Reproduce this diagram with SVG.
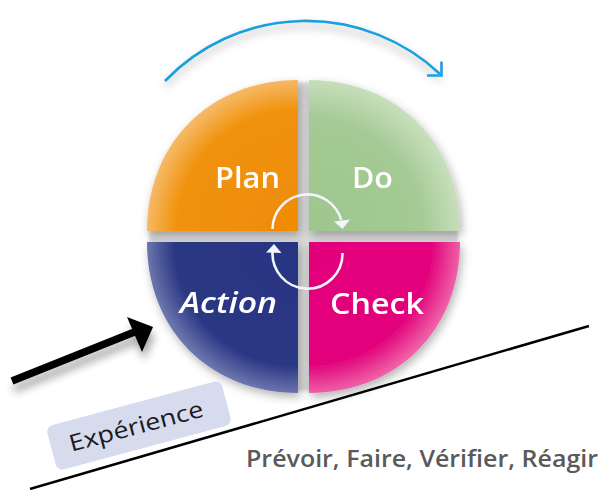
<svg xmlns="http://www.w3.org/2000/svg" width="603" height="490" viewBox="0 0 603 490">
  <defs>
    <style>
      .lbl { font-family: "Open Sans", "Liberation Sans", sans-serif; font-weight: 600; fill: #ffffff; font-size: 29px; }
      .cycle { fill: none; stroke: #F2F4FB; stroke-width: 2.6; }
      .cyclehead { fill: #F2F4FB; }
    </style>
    <filter id="diskShadow" x="-20%" y="-20%" width="140%" height="140%">
      <feDropShadow dx="2" dy="4" stdDeviation="5" flood-color="#000" flood-opacity="0.3"/>
    </filter>
    <filter id="softShadow" x="-20%" y="-50%" width="140%" height="200%">
      <feGaussianBlur stdDeviation="4"/>
    </filter>
    <filter id="gapBlur" x="-10%" y="-10%" width="120%" height="120%">
      <feGaussianBlur stdDeviation="1.5"/>
    </filter>
    <radialGradient id="gPlan" gradientUnits="userSpaceOnUse" cx="298" cy="231" r="151">
      <stop offset="0" stop-color="#EF8C05"/>
      <stop offset="0.8" stop-color="#F0920A"/>
      <stop offset="1" stop-color="#F6B865"/>
    </radialGradient>
    <radialGradient id="gDo" gradientUnits="userSpaceOnUse" cx="309" cy="231" r="151">
      <stop offset="0" stop-color="#9DC68C"/>
      <stop offset="0.75" stop-color="#A5CA95"/>
      <stop offset="1" stop-color="#C6DFBA"/>
    </radialGradient>
    <radialGradient id="gAction" gradientUnits="userSpaceOnUse" cx="298" cy="242" r="151">
      <stop offset="0" stop-color="#283583"/>
      <stop offset="0.82" stop-color="#2A3784"/>
      <stop offset="1" stop-color="#6B74AC"/>
    </radialGradient>
    <radialGradient id="gCheck" gradientUnits="userSpaceOnUse" cx="309" cy="242" r="151">
      <stop offset="0" stop-color="#E2007A"/>
      <stop offset="0.82" stop-color="#E2067D"/>
      <stop offset="1" stop-color="#EE5FA6"/>
    </radialGradient>
  </defs>

  <rect width="603" height="490" fill="#ffffff"/>

  <!-- connectors -->
  <g id="connectors">
    <!-- blue cycle arc -->
    <path d="M165,86 A195.6,195.6 0 0 1 441,80" fill="none" stroke="#000" stroke-opacity="0.18" stroke-width="5" filter="url(#softShadow)"/>
    <path d="M165,81 A195.6,195.6 0 0 1 440,74" fill="none" stroke="#1A9FE0" stroke-width="2.6"/>
    <path d="M427,75.5 L441.5,75.5 L441.5,61.5" fill="none" stroke="#1A9FE0" stroke-width="2.6" stroke-linejoin="miter"/>
    <!-- black progress arrow -->
    <g filter="url(#softShadow)" opacity="0.35">
      <line x1="14" y1="389" x2="138" y2="339" stroke="#000" stroke-width="7.5"/>
      <polygon points="155,335 129,325 144,360" fill="#000"/>
    </g>
    <line x1="12" y1="381" x2="137" y2="331" stroke="#000" stroke-width="7.5"/>
    <polygon points="153,327 127,317 142,352" fill="#000"/>
  </g>

  <!-- gray gaps between quadrants -->
  <g filter="url(#gapBlur)">
    <rect x="297" y="82" width="13" height="309" fill="#D9D9D9"/>
    <rect x="149" y="230" width="309" height="13" fill="#D9D9D9"/>
  </g>

  <!-- PDCA disk -->
  <g id="disk" filter="url(#diskShadow)">
    <g id="plan">
      <path d="M298,231 L298,80 C210,80 147,143 147,231 Z" fill="url(#gPlan)"/>
      <text class="lbl" x="215" y="188" textLength="65" lengthAdjust="spacingAndGlyphs">Plan</text>
    </g>
    <g id="do">
      <path d="M309,231 L309,80 C397,80 460,143 460,231 Z" fill="url(#gDo)"/>
      <text class="lbl" x="352" y="188" textLength="41" lengthAdjust="spacingAndGlyphs">Do</text>
    </g>
    <g id="action">
      <path d="M298,242 L147,242 C147,330 210,393 298,393 Z" fill="url(#gAction)"/>
      <text class="lbl" x="180" y="313" font-style="italic" textLength="97" lengthAdjust="spacingAndGlyphs">Action</text>
    </g>
    <g id="check">
      <path d="M309,242 L460,242 C460,330 397,393 309,393 Z" fill="url(#gCheck)"/>
      <text class="lbl" x="330" y="314" textLength="94" lengthAdjust="spacingAndGlyphs">Check</text>
    </g>
  </g>

  <!-- inner cycle arrows -->
  <g id="inner-cycle">
    <path class="cycle" d="M272.5,229 A35,35 0 0 1 341.2,220"/>
    <polygon class="cyclehead" points="342.5,229 334,221.5 350,219.5"/>
    <path class="cycle" d="M342.5,253 A35,35 0 1 1 272.7,250"/>
    <polygon class="cyclehead" points="274,244 266,252.5 281.5,253"/>
  </g>

  <!-- Experience label -->
  <g id="experience" transform="translate(139,425.5) rotate(-15)">
    <rect x="-90.5" y="-23" width="181" height="46" rx="7" fill="#D7DBEE"/>
    <text x="-3" y="8" text-anchor="middle" font-family="'Open Sans', 'Liberation Sans', sans-serif" font-weight="500" font-size="23" fill="#1a1a1a" textLength="138" lengthAdjust="spacingAndGlyphs">Expérience</text>
  </g>

  <!-- baseline -->
  <line id="ground" x1="30" y1="489" x2="589" y2="326" stroke="#000" stroke-width="2.5"/>

  <g id="caption">
    <text x="246" y="467" font-family="'Open Sans', 'Liberation Sans', sans-serif" font-weight="600" font-size="23" fill="#5A5A5A" textLength="352" lengthAdjust="spacingAndGlyphs">Prévoir, Faire, Vérifier, Réagir</text>
  </g>
</svg>
